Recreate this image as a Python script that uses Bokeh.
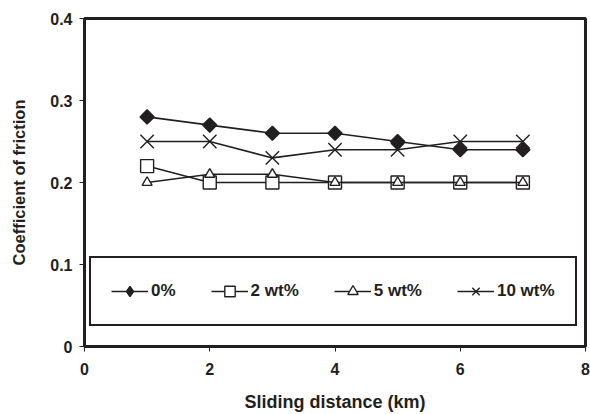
import math
from bokeh.plotting import figure
from bokeh.models import Legend, LegendItem, FixedTicker, ColumnDataSource
from bokeh.embed import file_html
from bokeh.resources import INLINE

distance = [1, 2, 3, 4, 5, 6, 7]
cof_0 = [0.28, 0.27, 0.26, 0.26, 0.25, 0.24, 0.24]
cof_2 = [0.22, 0.20, 0.20, 0.20, 0.20, 0.20, 0.20]
cof_5 = [0.20, 0.21, 0.21, 0.20, 0.20, 0.20, 0.20]
cof_10 = [0.25, 0.25, 0.23, 0.24, 0.24, 0.25, 0.25]
labels = ["0%", "2 wt%", "5 wt%", "10 wt%"]
x_ticks = [0, 2, 4, 6, 8]
y_ticks = [0, 0.1, 0.2, 0.3, 0.4]

FONT = "Liberation Sans"
INK = "#231f20"

p = figure(width=590, height=414, x_range=(0, 8), y_range=(0, 0.4),
           output_backend="svg", toolbar_location=None,
           min_border_left=84, min_border_right=5, min_border_top=18, min_border_bottom=67)

p.outline_line_color = INK
p.outline_line_alpha = 1
p.outline_line_width = 3
p.xgrid.visible = False
p.ygrid.visible = False
p.background_fill_color = "white"
p.border_fill_color = "white"

for ax in (p.xaxis, p.yaxis):
    ax.axis_line_color = None
    ax.major_tick_line_color = INK
    ax.major_tick_line_width = 1
    ax.major_tick_out = 5
    ax.major_tick_in = 0
    ax.minor_tick_line_color = None
    ax.major_label_text_font = FONT
    ax.major_label_text_font_style = "bold"
    ax.major_label_text_font_size = "16px"
    ax.major_label_text_color = INK
    ax.axis_label_text_font = FONT
    ax.axis_label_text_font_style = "bold"
    ax.axis_label_text_color = INK

p.xaxis.axis_label_text_font_size = "18px"
p.yaxis.axis_label_text_font_size = "16.5px"
p.xaxis.ticker = FixedTicker(ticks=x_ticks)
p.yaxis.ticker = FixedTicker(ticks=y_ticks)
p.yaxis.major_label_overrides = {0: "0", 0.1: "0.1", 0.2: "0.2", 0.3: "0.3", 0.4: "0.4"}
p.xaxis.major_label_standoff = 11
p.yaxis.major_label_standoff = 7
p.xaxis.axis_label = "Sliding distance (km)"
p.yaxis.axis_label = "Coefficient of friction"
p.xaxis.axis_label_standoff = 14
p.yaxis.axis_label_standoff = 19

src = ColumnDataSource(dict(x=distance, c0=cof_0, c2=cof_2, c5=cof_5, c10=cof_10))

items = []
specs = [
    ("c0", "square", 10, INK, math.pi / 4, "diamond"),
    ("c2", "square", 13, "white", 0, None),
    ("c5", "triangle", 10, "white", 0, None),
    ("c10", "x", 19, None, 0, None),
]
for (col, marker, size, fill, ang, legend_marker), lab in zip(specs, labels):
    ln = p.line("x", col, source=src, line_color=INK, line_width=1.6)
    sc = p.scatter("x", col, source=src, marker=marker, size=size, angle=ang,
                   line_color=INK, line_width=1.4,
                   fill_color=fill if fill else None)
    if legend_marker:
        lg = p.scatter("x", col, source=src, marker=legend_marker, size=size,
                       line_color=INK, line_width=1.4,
                       fill_color=fill if fill else None, visible=False)
        items.append(LegendItem(label=lab, renderers=[ln, lg]))
    else:
        items.append(LegendItem(label=lab, renderers=[ln, sc]))

legend = Legend(items=items, orientation="horizontal", location=(5, 20),
                glyph_width=37, glyph_height=26, label_standoff=3, spacing=35,
                padding=20, margin=0,
                border_line_color=INK, border_line_width=2.5, border_line_alpha=1,
                background_fill_color="white", background_fill_alpha=1,
                label_text_font=FONT, label_text_font_style="bold",
                label_text_font_size="17px", label_text_color=INK)
p.add_layout(legend, "center")

open("out.html", "w").write(file_html(p, INLINE))
